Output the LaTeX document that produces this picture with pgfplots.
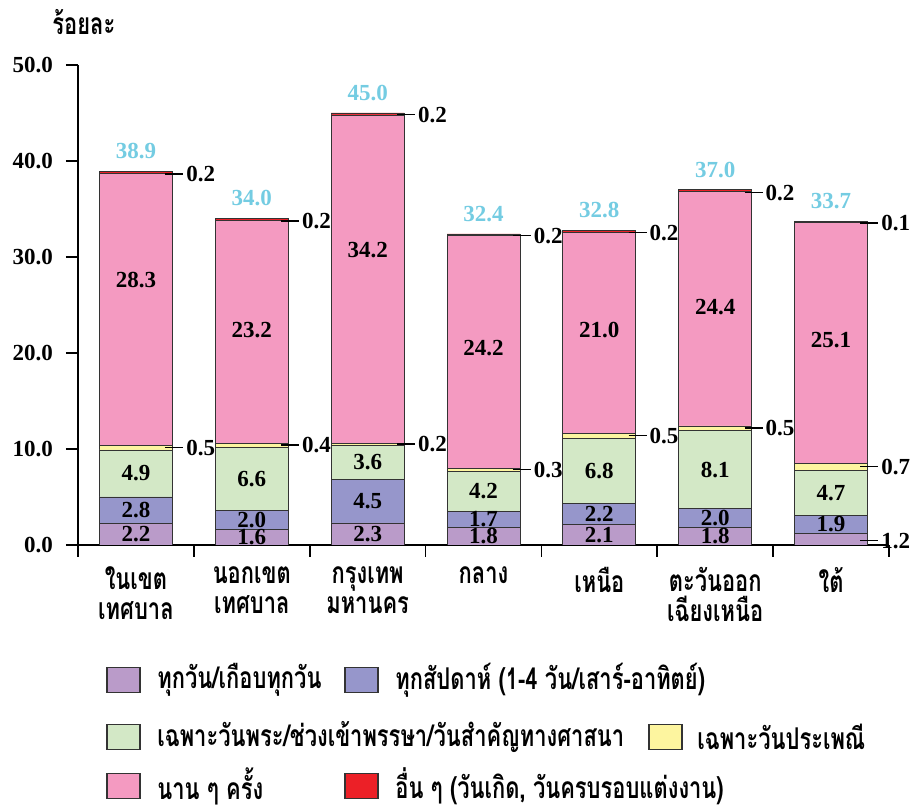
\documentclass[border=0pt]{standalone}
\usepackage{pgfplots}
\pgfplotsset{compat=1.18}
\usepackage{fontspec}
\setmainfont{Liberation Serif}
\newfontfamily\thai[Script=Thai, FakeStretch=0.73]{Loma}
\definecolor{cA}{RGB}{186,155,201}
\definecolor{cB}{RGB}{150,150,203}
\definecolor{cC}{RGB}{211,232,198}
\definecolor{cD}{RGB}{253,245,159}
\definecolor{cE}{RGB}{244,154,193}
\definecolor{cF}{RGB}{236,32,39}
\definecolor{cT}{RGB}{116,204,226}
\newcommand{\numfont}{\bfseries\fontsize{11.5}{13}\selectfont}
\newcommand{\thfont}{\thai\bfseries\fontsize{15}{15}\selectfont}
\begin{document}
\begin{tikzpicture}
\useasboundingbox (-39pt,-130.5pt) rectangle (419.5pt,272.5pt);
\pgfplotsset{
  common/.style={
    at={(0pt,0pt)}, anchor=south west,
    width=405.5pt, height=240pt, scale only axis,
    xmin=-0.5, xmax=6.5, ymin=0, ymax=50,
  }
}
\begin{axis}[common,
  axis x line*=bottom, axis y line*=left,
  axis line style={line width=1pt},
  tick align=outside,
  major tick length=6pt,
  tick style={black, line width=0.9pt},
  ytick={0,10,...,50},
  yticklabel style={font=\numfont, xshift=-3pt, /pgf/number format/.cd, fixed, fixed zerofill, precision=1, assume math mode=true},
  xtick={-0.5,0.5,...,6.5},
  xticklabels={},
  extra x ticks={0,1,2,3,4,5,6},
  extra x tick labels={ในเขต\\เทศบาล, นอกเขต\\เทศบาล, กรุงเทพ\\มหานคร, กลาง, เหนือ, ตะวันออก\\เฉียงเหนือ, ใต้},
  extra x tick style={major tick length=0pt, tick label style={font=\thfont, align=center, anchor=north, yshift=-7.5pt}},
  ybar stacked, bar width=0.63,
  every axis plot/.append style={draw=black!80, line width=0.4pt},
]
\addplot[fill=cA] coordinates {(0,2.2) (1,1.6) (2,2.3) (3,1.8) (4,2.1) (5,1.8) (6,1.2)};
\addplot[fill=cB] coordinates {(0,2.8) (1,2.0) (2,4.5) (3,1.7) (4,2.2) (5,2.0) (6,1.9)};
\addplot[fill=cC] coordinates {(0,4.9) (1,6.6) (2,3.6) (3,4.2) (4,6.8) (5,8.1) (6,4.7)};
\addplot[fill=cD] coordinates {(0,0.5) (1,0.4) (2,0.2) (3,0.3) (4,0.5) (5,0.5) (6,0.7)};
\addplot[fill=cE] coordinates {(0,28.3) (1,23.2) (2,34.2) (3,24.2) (4,21.0) (5,24.4) (6,25.1)};
\addplot[fill=cF] coordinates {(0,0.2) (1,0.2) (2,0.2) (3,0.2) (4,0.2) (5,0.2) (6,0.1)};
\end{axis}
\begin{axis}[common, axis lines=none, clip=false,
  every node near coord/.append style={font=\numfont, inner sep=0pt},
]
% inside labels
\addplot[draw=none, mark=none, point meta=explicit symbolic, nodes near coords,
  every node near coord/.append style={anchor=center}] table[meta=l] {
x y l
0 1.1 2.2
1 0.8 1.6
2 1.15 2.3
3 0.9 1.8
4 1.05 2.1
5 0.9 1.8
0 3.6 2.8
1 2.6 2.0
2 4.55 4.5
3 2.65 1.7
4 3.2 2.2
5 2.8 2.0
6 2.15 1.9
0 7.45 4.9
1 6.9 6.6
2 8.6 3.6
3 5.6 4.2
4 7.7 6.8
5 7.85 8.1
6 5.45 4.7
0 27.6 28.3
1 22.4 23.2
2 30.7 34.2
3 20.5 24.2
4 22.4 21.0
5 24.8 24.4
6 21.3 25.1
};
% outside labels with leader lines
\addplot[draw=none, mark=none, point meta=explicit symbolic,
  nodes near coords={\rule[0.31em]{9pt}{0.7pt}\hspace{1.5pt}\pgfplotspointmeta},
  every node near coord/.append style={anchor=west}] table[meta=l] {
x y l
0.25 10.15 0.5
1.25 10.4 0.4
2.25 10.5 0.2
3.25 7.85 0.3
4.25 11.35 0.5
5.25 12.15 0.5
6.25 8.15 0.7
0.25 38.6 0.2
1.25 33.7 0.2
2.25 44.8 0.2
3.25 32.2 0.2
4.25 32.5 0.2
5.25 36.7 0.2
6.25 33.5 0.1
6.25 0.4 1.2
};
% totals
\addplot[draw=none, mark=none, point meta=explicit symbolic, nodes near coords,
  every node near coord/.append style={anchor=south, text=cT, yshift=5pt}] table[meta=l] {
x y l
0 39.1 38.9
1 34.2 34.0
2 45.2 45.0
3 32.6 32.4
4 33.0 32.8
5 37.2 37.0
6 33.9 33.7
};
\node[anchor=west, font=\thfont, inner sep=0pt] at (rel axis cs:0,1) [xshift=-13pt, yshift=21.5pt] {ร้อยละ};
\end{axis}
% legend
\begin{scope}[every node/.style={anchor=west, font=\thfont, inner sep=0pt}]
\def\bx#1#2#3{\draw[fill=#3, draw=black!80, line width=0.6pt] (#1,#2-6.25pt) rectangle ++(16.5pt,12.5pt);}
\bx{14.5pt}{-67.5pt}{cA} \node at (39.5pt,-67.5pt) {ทุกวัน/เกือบทุกวัน};
\bx{133.5pt}{-67.5pt}{cB} \node at (158.5pt,-67.5pt) {ทุกสัปดาห์ (1-4 วัน/เสาร์-อาทิตย์)};
\bx{14.5pt}{-96pt}{cC} \node at (39.5pt,-96pt) {เฉพาะวันพระ/ช่วงเข้าพรรษา/วันสำคัญทางศาสนา};
\bx{285.5pt}{-96pt}{cD} \node at (309.5pt,-96pt) {เฉพาะวันประเพณี};
\bx{14.5pt}{-120.5pt}{cE} \node at (39.5pt,-120.5pt) {นาน ๆ ครั้ง};
\bx{133.5pt}{-120.5pt}{cF} \node at (158.5pt,-120.5pt) {อื่น ๆ (วันเกิด, วันครบรอบแต่งงาน)};
\end{scope}
\end{tikzpicture}
\end{document}
